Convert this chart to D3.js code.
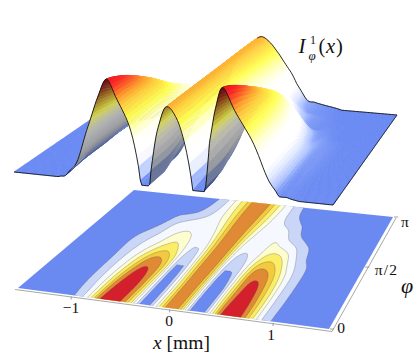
<!DOCTYPE html>
<html>
<head>
<meta charset="utf-8">
<style>
  html, body { margin: 0; padding: 0; background: #fff; }
  text { font-family: "Liberation Serif", serif; fill: #111; }
</style>
<script src="https://cdnjs.cloudflare.com/ajax/libs/d3/7.8.5/d3.min.js"></script>
</head>
<body>
<svg id="chart" width="415" height="354"></svg>
<script>
// values
const xValues = [-1.6, -1.5, -1.4, -1.3, -1.2, -1.1, -1.0, -0.9, -0.8, -0.7, -0.6, -0.5, -0.4, -0.3, -0.25, -0.2, -0.1, 0,
  0.1, 0.2, 0.27, 0.34, 0.4, 0.5, 0.6, 0.7, 0.8, 0.9, 1.0, 1.1, 1.2, 1.3, 1.4, 1.5, 1.6];
const phiFractions = [0, 1 / 6, 1 / 3, 1 / 2, 2 / 3, 5 / 6, 1]; // of pi

const phi0 = [0, 0, 0, 0, 0, 0, .01, .08, .38, .76, .98, .76, .46, .018, 0, .018, .42, .72, .56, .018, 0, .018, .32, .76, 1.0, .72, .42, .10, .01, .002, 0, 0, 0, 0, 0];
const phi1 = [0, 0, 0, 0, 0, 0, .02, .12, .36, .66, .88, .76, .48, .018, .005, .02, .43, .72, .56, .02, .005, .02, .34, .70, .88, .66, .42, .11, .015, .004, 0, 0, 0, 0, 0];
const phi2 = [0, 0, 0, 0, 0, 0, .02, .11, .28, .50, .68, .66, .48, .035, .02, .07, .48, .72, .58, .06, .02, .07, .32, .64, .68, .56, .34, .10, .016, .006, .001, 0, 0, 0, 0];
const phi3 = [0, 0, 0, 0, 0, 0, .02, .07, .16, .27, .39, .43, .32, .14, .12, .18, .52, .72, .59, .20, .12, .15, .24, .40, .44, .34, .14, .03, .012, .005, .001, 0, 0, 0, 0];
const phi4 = [0, 0, 0, 0, 0, 0, 0, .01, .05, .15, .22, .25, .23, .20, .24, .33, .58, .72, .60, .33, .21, .20, .22, .24, .12, .05, .012, .007, .003, 0, 0, 0, 0, 0, 0];
const phi5 = [0, 0, 0, 0, 0, 0, 0, 0, 0, 0, .02, .07, .14, .26, .34, .42, .62, .72, .62, .42, .28, .19, .13, .06, .02, .01, .005, .002, 0, 0, 0, 0, 0, 0, 0];
const phi6 = [0, 0, 0, 0, 0, 0, 0, 0, 0, 0, 0, .02, .09, .28, .37, .45, .63, .72, .63, .45, .31, .20, .10, .02, .01, .005, .002, 0, 0, 0, 0, 0, 0, 0, 0];
const rows = [phi0, phi1, phi2, phi3, phi4, phi5, phi6];

const contourLevels = [.02, .12, .28, .40, .52, .62, .75];
const contourColors = ['#c9d6f8', '#f5f8ff', '#fdfdcf', '#fbee66', '#f3c93f', '#e08a35', '#d3202c'];
const surfaceStops = [0, .008, .02, .05, .1, .22, .33, .5, .66, .76, .92, 1];
const surfaceColors = ['#6a8af2', '#7f9cf6', '#b0c4ff', '#e0e8ff', '#ffffff', '#ffffff', '#ffffc8', '#ffff50', '#ffd040', '#ffa030', '#ff2a28', '#f01824'];
const xTicks = [-1, 0, 1];
const phiTicks = [0, .5, 1];

const svg = d3.select('#chart');
const blue = '#6a8af2';

// unit square -> screen, perspective
function homography(q) {
  const [p0, p1, p2, p3] = q;
  const dx1 = p1[0] - p2[0], dx2 = p3[0] - p2[0], sx = p0[0] - p1[0] + p2[0] - p3[0];
  const dy1 = p1[1] - p2[1], dy2 = p3[1] - p2[1], sy = p0[1] - p1[1] + p2[1] - p3[1];
  const den = dx1 * dy2 - dx2 * dy1;
  const g = (sx * dy2 - dx2 * sy) / den, h = (dx1 * sy - sx * dy1) / den;
  const a = p1[0] - p0[0] + g * p1[0], b = p3[0] - p0[0] + h * p3[0];
  const d = p1[1] - p0[1] + g * p1[1], e = p3[1] - p0[1] + h * p3[1];
  return (u, v) => {
    const w = g * u + h * v + 1;
    return [(a * u + b * v + p0[0]) / w, (d * u + e * v + p0[1]) / w, w];
  };
}

const lowerCorners = [[18, 288], [329, 329], [393, 217], [134, 190]];
const upperCorners = [[14, 172], [333, 205], [397, 115], [131, 92]];
const lower = homography(lowerCorners);
const upper = homography(upperCorners);

const xScale = d3.scaleLinear().domain([-1.56, 1.52]).range([0, 1]);
const columnIndex = d3.scaleLinear().domain(xValues).range(d3.range(xValues.length)).clamp(true);
const peakHeight = 103;

function along(arr, pos) {
  const n = arr.length;
  const i = Math.max(0, Math.min(n - 2, Math.floor(pos)));
  const t = pos - i;
  const at = (k) => arr[Math.max(0, Math.min(n - 1, k))];
  const p0 = at(i - 1), p1 = at(i), p2 = at(i + 1), p3 = at(i + 2);
  const val = .5 * (2 * p1 + (p2 - p0) * t + (2 * p0 - 5 * p1 + 4 * p2 - p3) * t * t + (3 * p1 - p0 - 3 * p2 + p3) * t * t * t);
  return Math.max(val, Math.min(p1, p2)); // no dips below the read values
}
// reads the table, smooth between the read values, only for drawing
function level(x, v) {
  const column = rows.map((r) => along(r, columnIndex(x)));
  const rowPos = Math.max(0, Math.min(1, v)) * (phiFractions.length - 1);
  return Math.max(0, along(column, rowPos));
}

/************/
/*  FLOOR   */
/************/
const floor = svg.append('g');
const planePoints = [[0, 0], [1, 0], [1, 1], [0, 1]].map((c) => lower(c[0], c[1]).slice(0, 2));
const defs = svg.append('defs');
defs.append('clipPath').attr('id', 'plane').append('polygon').attr('points', planePoints.join(' '));
// soft like the reference, also hides the rows of the mesh
defs.append('filter').attr('id', 'soft').attr('x', '-5%').attr('y', '-5%').attr('width', '110%').attr('height', '110%')
  .append('feGaussianBlur').attr('stdDeviation', .6);

floor.append('polygon').attr('points', planePoints.join(' ')).attr('fill', blue);

const gridW = 260, gridH = 130, over = .01;
const gridValues = [];
for (let j = 0; j < gridH; j++) {
  for (let i = 0; i < gridW; i++) {
    const u = -over + (1 + 2 * over) * i / (gridW - 1);
    const v = -over + (1 + 2 * over) * j / (gridH - 1);
    gridValues.push(level(xScale.invert(u), v));
  }
}
const contours = d3.contours().size([gridW, gridH]).thresholds(contourLevels)(gridValues);
const toPlane = d3.geoTransform({
  point(gx, gy) {
    const u = -over + (1 + 2 * over) * (gx - .5) / (gridW - 1);
    const v = -over + (1 + 2 * over) * (gy - .5) / (gridH - 1);
    const p = lower(u, v);
    this.stream.point(p[0], p[1]);
  },
});
floor.append('g').attr('clip-path', 'url(#plane)')
  .selectAll('path').data(contours).enter().append('path')
  .attr('d', d3.geoPath(toPlane))
  .attr('fill', (d, i) => contourColors[i])
  .attr('stroke', '#555')
  .attr('stroke-opacity', .6)
  .attr('stroke-width', .5);

// grey frame lines with ticks, slightly off the plane
const frameFront = [[15, 289.5], [332, 331.5]];
const frameSide = [[332, 331.5], [396, 218]];
floor.append('path').attr('d', d3.line()(frameFront)).attr('fill', 'none').attr('stroke', '#a8a8a8').attr('stroke-width', 1);
floor.append('path').attr('d', d3.line()(frameSide)).attr('fill', 'none').attr('stroke', '#a8a8a8').attr('stroke-width', 1);

xTicks.forEach((t) => {
  const p = lower(xScale(t), 0);
  floor.append('line').attr('x1', p[0]).attr('y1', p[1] + 1.5).attr('x2', p[0]).attr('y2', p[1] + 4.5)
    .attr('stroke', '#888').attr('stroke-width', .8);
});
phiTicks.forEach((t) => {
  const p = lower(1, t);
  floor.append('line').attr('x1', p[0] + 1).attr('y1', p[1]).attr('x2', p[0] + 5).attr('y2', p[1])
    .attr('stroke', '#888').attr('stroke-width', .8);
});

/*************/
/*  SURFACE  */
/*************/
const surfaceColor = d3.scaleLinear().domain(surfaceStops).range(surfaceColors).clamp(true);

function lift(u, v) {
  const z = Math.min(level(xScale.invert(u), v), 1);
  const p = upper(u, v);
  // the upper sheet stands fuller than the contour values below it
  const height = Math.pow(z, .6 + .4 * z * z) * peakHeight / p[2];
  const shift = -(p[0] - 60) * .062 * z * (1 - .9 * v);
  return [p[0] + shift, p[1] - height, z];
}

const nu = 200, nv = 110;
const nodes = [];
for (let j = 0; j <= nv; j++) {
  const row = [];
  for (let i = 0; i <= nu; i++) row.push(lift(i / nu, j / nv));
  nodes.push(row);
}
const flatArea = 2 * 290 * 90 / (nu * nv);
const quads = [];
for (let j = nv - 1; j >= 0; j--) {
  for (let i = 0; i < nu; i++) {
    const a = nodes[j][i], b = nodes[j][i + 1], c = nodes[j + 1][i + 1], d = nodes[j + 1][i];
    const area = (c[0] - a[0]) * (d[1] - b[1]) - (c[1] - a[1]) * (d[0] - b[0]);
    quads.push({pts: [a, b, c, d], z: (a[2] + b[2] + c[2] + d[2]) / 4, under: Math.max(0, Math.min(1, 2 * area / flatArea))});
  }
}
function quadColor(q) {
  const col = d3.rgb(surfaceColor(q.z));
  // the underside, seen through the arches, is darker, most at the top and at the floor
  const dark = q.z > .45 ? .82 - .45 * (q.z - .45) / .55 : .82 - .55 * (.45 - q.z);
  const k = 1 + (dark - 1) * q.under;
  return d3.rgb(col.r * k, col.g * k, col.b * k).formatHex();
}

const surface = svg.append('g');
const rim = d3.line().x((d) => d[0]).y((d) => d[1]);

surface.append('g').attr('filter', 'url(#soft)')
  .selectAll('path.quad').data(quads).enter().append('path')
  .attr('class', 'quad')
  .attr('d', (d) => 'M' + d.pts.map((p) => p[0].toFixed(2) + ',' + p[1].toFixed(2)).join('L') + 'Z')
  .attr('fill', quadColor)
  .attr('stroke', quadColor)
  .attr('stroke-width', .5);

surface.append('path').attr('d', rim(nodes[0]))
  .attr('fill', 'none').attr('stroke', '#111').attr('stroke-width', .9);
surface.append('path').attr('d', rim(nodes.map((r) => r[nu])))
  .attr('fill', 'none').attr('stroke', '#111').attr('stroke-width', .9);
surface.append('path').attr('d', rim(nodes[nv].slice(Math.round(nu * .49))))
  .attr('fill', 'none').attr('stroke', '#111').attr('stroke-width', .9);

/************/
/*  LABELS  */
/************/
const tickFont = 15.5;
const label = (x, y, s, size, italic) => svg.append('text').attr('x', x).attr('y', y)
  .attr('text-anchor', 'middle').attr('font-size', size || tickFont)
  .attr('font-style', italic ? 'italic' : 'normal').text(s);

label(71, 313, '−1');
label(169, 326, '0');
label(271, 340, '1');
label(341, 333, '0');
label(386.5, 275, 'π/2').attr('letter-spacing', 1.2);
label(405, 227, 'π');
label(407, 293, 'φ', 22, true);

const xLabel = svg.append('text').attr('x', 181.5).attr('y', 349).attr('text-anchor', 'middle').attr('font-size', 19.5);
xLabel.append('tspan').attr('font-style', 'italic').text('x');
xLabel.append('tspan').text(' [mm]');

// title pieces are set one by one, it is a formula
label(302, 53, 'I', 21, true);
label(313, 44, '1', 12);
label(312, 60, 'φ', 13, true);
const paren = label(331, 53, '', 20.5).attr('letter-spacing', .8);
paren.append('tspan').text('(');
paren.append('tspan').attr('font-style', 'italic').text('x');
paren.append('tspan').text(')');
</script>
</body>
</html>
